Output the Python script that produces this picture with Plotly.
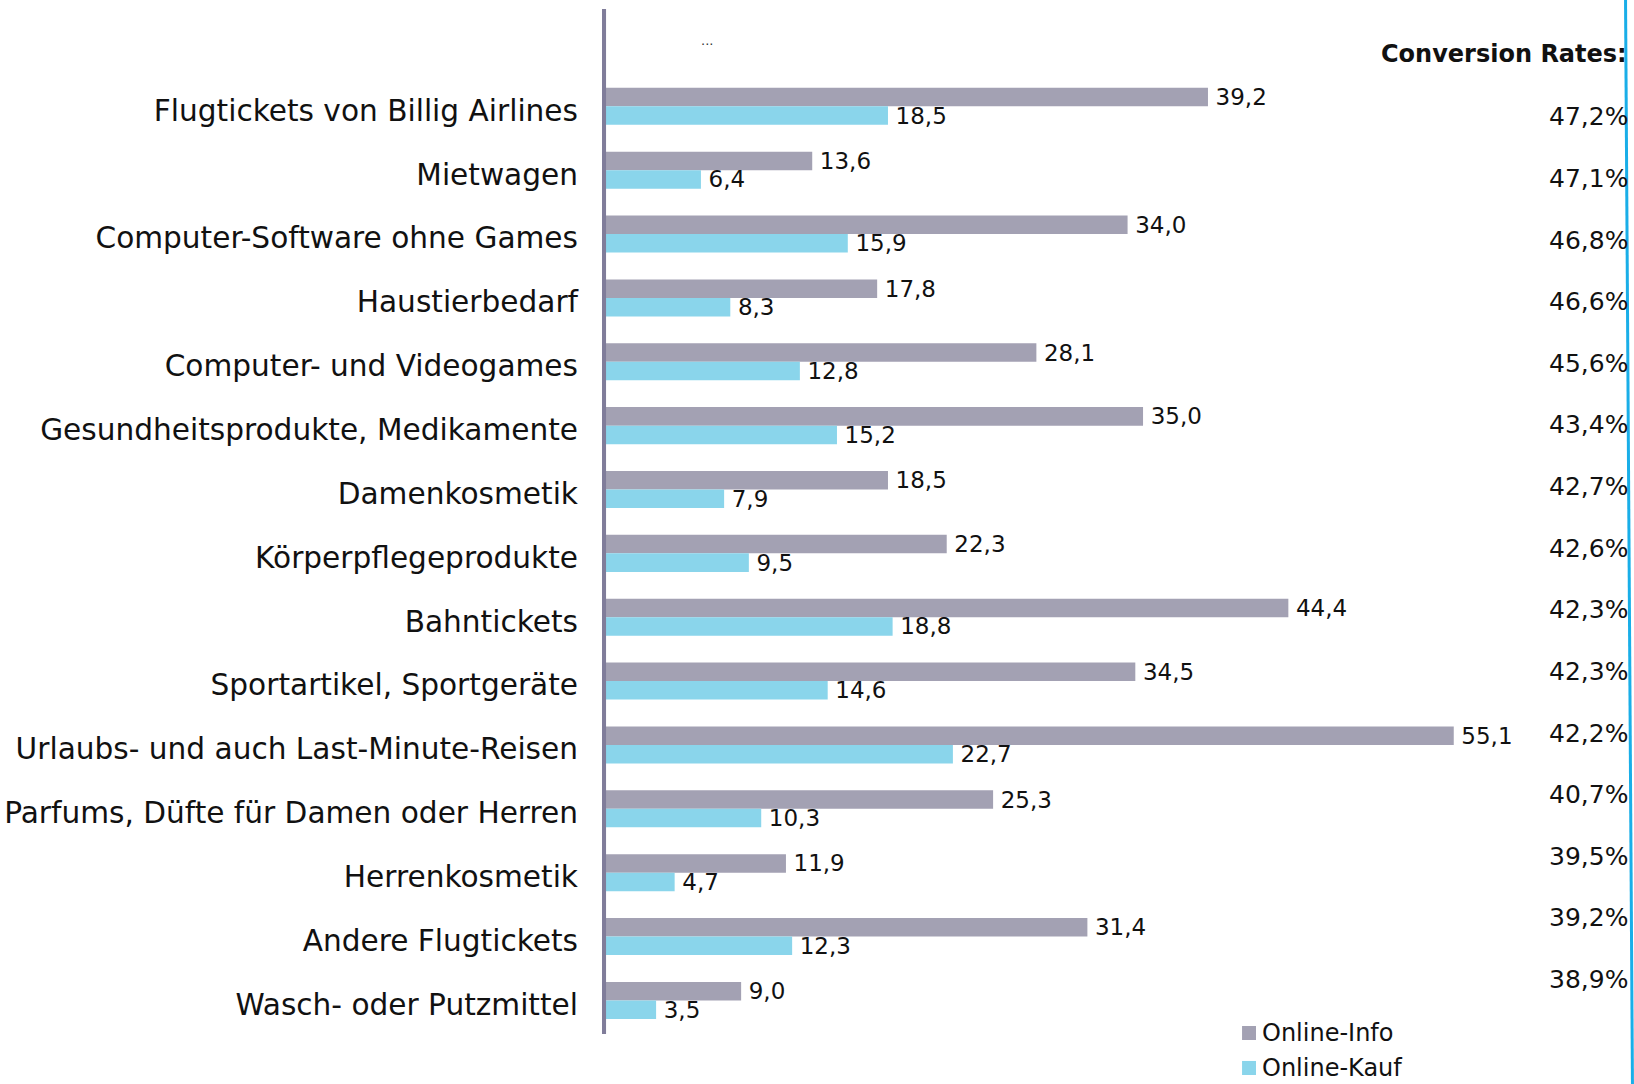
import plotly.graph_objects as go

categories = [
    "Flugtickets von Billig Airlines",
    "Mietwagen",
    "Computer-Software ohne Games",
    "Haustierbedarf",
    "Computer- und Videogames",
    "Gesundheitsprodukte, Medikamente",
    "Damenkosmetik",
    "Körperpflegeprodukte",
    "Bahntickets",
    "Sportartikel, Sportgeräte",
    "Urlaubs- und auch Last-Minute-Reisen",
    "Parfums, Düfte für Damen oder Herren",
    "Herrenkosmetik",
    "Andere Flugtickets",
    "Wasch- oder Putzmittel",
]
online_info = [39.2, 13.6, 34.0, 17.8, 28.1, 35.0, 18.5, 22.3, 44.4, 34.5, 55.1, 25.3, 11.9, 31.4, 9.0]
online_kauf = [18.5, 6.4, 15.9, 8.3, 12.8, 15.2, 7.9, 9.5, 18.8, 14.6, 22.7, 10.3, 4.7, 12.3, 3.5]
conversion_rates = ["47,2%", "47,1%", "46,8%", "46,6%", "45,6%", "43,4%", "42,7%", "42,6%",
                    "42,3%", "42,3%", "42,2%", "40,7%", "39,5%", "39,2%", "38,9%"]
series_names = ["Online-Info", "Online-Kauf"]

FONT = "DejaVu Sans"
GREY = "#a3a1b3"
CYAN = "#8ad5eb"
AXIS = "#807d9a"
colors = [GREY, CYAN]

fig = go.Figure()
for name, vals, col in zip(series_names, [online_info, online_kauf], colors):
    fig.add_trace(go.Bar(
        y=categories, x=vals, orientation="h", name=name,
        marker=dict(color=col, line=dict(width=0)),
        texttemplate="\u2009%{x:.1f}", textposition="outside", cliponaxis=False,
        constraintext="none",
        textfont=dict(family=FONT, size=23, color="#111111"),
        showlegend=False,
    ))

annotations = []
for i, r in enumerate(conversion_rates):
    annotations.append(dict(
        x=0.9960, xref="paper", y=0.163 + 0.9651 * i, yref="y",
        text=r, showarrow=False, xanchor="right", yanchor="middle",
        font=dict(family=FONT, size=25, color="#111111"),
    ))
annotations.append(dict(
    x=0.9950, xref="paper", y=-0.82, yref="y",
    text="<b>Conversion Rates:</b>", showarrow=False, xanchor="right", yanchor="middle",
    font=dict(family=FONT, size=24, color="#111111"),
))
annotations.append(dict(
    x=6.76, xref="x", y=-1.03, yref="y",
    text="...", showarrow=False, xanchor="center", yanchor="middle",
    font=dict(family=FONT, size=13, color="#333333"),
))

shapes = [
    dict(
        type="line", xref="paper", yref="paper",
        x0=0.9918, y0=1.0088, x1=0.9985, y1=-0.0488,
        line=dict(color="#19aee8", width=3),
    ),
    dict(
        type="line", xref="x", yref="paper",
        x0=0.1, y0=0, x1=0.1, y1=1, layer="above",
        line=dict(color=AXIS, width=5),
    ),
]

# custom legend (squares + labels) placed below the plot area
legend_rows = [(-0.00585, 0.0078, 0.001), (-0.0400, -0.0263, -0.0330)]
for name, col, (ly0, ly1, ty) in zip(series_names, colors, legend_rows):
    shapes.append(dict(
        type="rect", xref="paper", yref="paper",
        x0=0.6202, x1=0.6337, y0=ly0, y1=ly1,
        fillcolor=col, line=dict(width=0),
    ))
    annotations.append(dict(
        x=0.6375, xref="paper", y=ty, yref="paper",
        text=name, showarrow=False, xanchor="left", yanchor="middle",
        font=dict(family=FONT, size=24, color="#111111"),
    ))

fig.update_layout(
    width=1634, height=1084,
    margin=dict(l=602, r=0, t=9, b=50, autoexpand=False),
    paper_bgcolor="white", plot_bgcolor="white",
    barmode="group", bargap=0.42, bargroupgap=0,
    separators=",.",
    showlegend=False,
    annotations=annotations,
    shapes=shapes,
)
fig.update_xaxes(range=[0, 66.76], visible=False, showgrid=False, zeroline=False)
fig.update_yaxes(
    categoryorder="array", categoryarray=categories,
    range=[14.526, -1.524],
    showline=False,
    showgrid=False, zeroline=False, ticks="",
    ticklabelstandoff=23, ticklabelshift=-4, automargin=False,
    tickfont=dict(family=FONT, size=29.6, color="#111111"),
)

fig.write_html("out.html", config={"displayModeBar": False})

with open("out.html", "r", encoding="utf-8") as f:
    html = f.read()
html = html.replace("<head>", "<head><style>html,body{margin:0;padding:0;overflow:hidden;}</style>", 1)
with open("out.html", "w", encoding="utf-8") as f:
    f.write(html)
